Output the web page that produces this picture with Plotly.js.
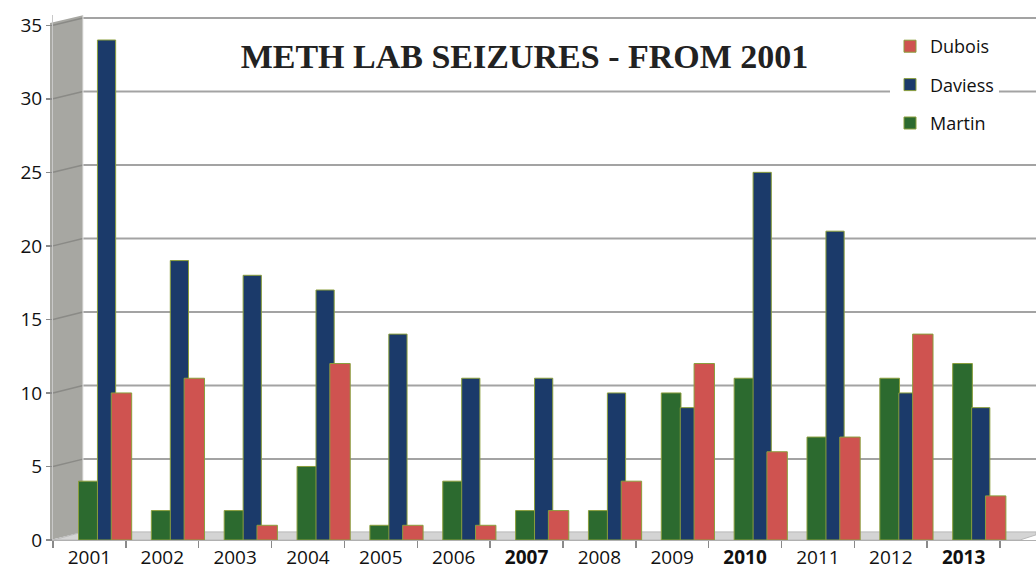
<!DOCTYPE html>
<html>
<head>
<meta charset="utf-8">
<script src="https://cdn.plot.ly/plotly-3.0.1.min.js"></script>
<style>html,body{margin:0;padding:0;background:#fff;}#chart{width:1036px;height:575px;}</style>
</head>
<body>
<div id="chart"></div>
<script>
// ---- data ----
var years = [2001, 2002, 2003, 2004, 2005, 2006, 2007, 2008, 2009, 2010, 2011, 2012, 2013];
var yearLabels = ['2001','2002','2003','2004','2005','2006','<b>2007</b>','2008','2009','<b>2010</b>','2011','2012','<b>2013</b>'];
var martin  = [4, 2, 2, 5, 1, 4, 2, 2, 10, 11, 7, 11, 12];
var daviess = [34, 19, 18, 17, 14, 11, 11, 10, 9, 25, 21, 10, 9];
var dubois  = [10, 11, 1, 12, 1, 1, 2, 4, 12, 6, 7, 14, 3];
var gridVals = [5, 10, 15, 20, 25, 30, 35];
var titleText = 'METH LAB SEIZURES - FROM 2001';

// ---- layout geometry (pixels) ----
var L = 53, R = 0, T = 15, B = 35, W = 1036, H = 575;
var plotW = W - L - R;
var unitX = 72.85;
var xmin = 2000.5, xmax = xmin + plotW / unitX;
function px2x(p){ return (p - L) / plotW; } // paper x
var edge = '#8a9e3c';
var font = 'Open Sans, Lato, sans-serif';

function bar(name, vals, color, off, wid, rank){
  return {type:'bar', name:name, x:years, y:vals, offset:off, width:wid,
    legendgroup:name, legendrank:rank,
    marker:{color:color, line:{color:edge, width:1}}};
}
var traces = [
  bar('Martin', martin, '#2c6a2f', -0.15, 0.27, 3),
  bar('Daviess', daviess, '#1b3a6a', 0.11, 0.25, 2),
  bar('Dubois', dubois, '#cf5350', 0.30, 0.28, 1)
];

var shapes = [];
// side wall
shapes.push({type:'path', xref:'paper', yref:'y', layer:'below',
  path:'M '+px2x(50)+' 0 L '+px2x(50)+' 35.15 L '+px2x(83)+' 35.68 L '+px2x(83)+' 0.55 Z',
  fillcolor:'#a7a7a2', line:{width:0}});
// floor
shapes.push({type:'path', xref:'paper', yref:'y', layer:'below',
  path:'M '+px2x(53)+' 0 L '+px2x(1020)+' 0 L '+px2x(1036)+' 0.35 L 1 0.55 L '+px2x(83)+' 0.55 Z',
  fillcolor:'#d4d4d4', line:{color:'#b8b8b8', width:1}});
// back-wall grid lines and wall slants
gridVals.forEach(function(v){
  shapes.push({type:'line', xref:'paper', yref:'y', layer:'below',
    x0:px2x(83), x1:1, y0:v+0.5, y1:v+0.5, line:{color:'#a3a3a3', width:2}});
  shapes.push({type:'line', xref:'paper', yref:'y', layer:'below',
    x0:px2x(53), x1:px2x(83), y0:v, y1:v+0.5, line:{color:'#8a8a86', width:1.5}});
});
// left edge of back wall
shapes.push({type:'line', xref:'paper', yref:'y', layer:'below',
  x0:px2x(83), x1:px2x(83), y0:0.55, y1:35.68, line:{color:'#e6e6e6', width:1}});

var layout = {
  width:W, height:H,
  margin:{l:L, r:R, t:T, b:B, pad:0},
  paper_bgcolor:'#ffffff', plot_bgcolor:'rgba(0,0,0,0)',
  barmode:'overlay',
  showlegend:true,
  title:{text:'<b>'+titleText+'</b>', x:524.5/W, y:1-56/H, xanchor:'center', yanchor:'middle',
    xref:'container', yref:'container',
    font:{family:'Liberation Serif, Times New Roman, serif', size:34, color:'#222222'}},
  xaxis:{type:'linear', range:[xmin, xmax], tickvals:years, ticktext:yearLabels,
    ticks:'', showgrid:false, zeroline:false, showline:true, linecolor:'#b0b0b0', linewidth:1,
    tickfont:{family:font, size:19, color:'#111111'},
    minor:{tick0:2000.5, dtick:1, ticks:'outside', ticklen:7, tickcolor:'#8a8a8a', tickwidth:1.5, showgrid:false},
    fixedrange:true},
  yaxis:{range:[0, 35.7], tickvals:[0,5,10,15,20,25,30,35], showgrid:false, zeroline:false,
    ticks:'outside', ticklen:6, tickcolor:'#8a8a8a', tickwidth:1.5,
    showline:true, linecolor:'#c8c8c8', linewidth:1,
    tickfont:{family:font, size:19, color:'#111111'}, fixedrange:true},
  legend:{x:px2x(890), y:(540-28)/(H-T-B), xanchor:'left', yanchor:'top',
    bgcolor:'#ffffff', traceorder:'grouped', tracegroupgap:12,
    font:{family:font, size:18, color:'#111111'}, itemwidth:30},
  shapes:shapes
};

Plotly.newPlot('chart', traces, layout, {displayModeBar:false, staticPlot:true});
</script>
</body>
</html>
